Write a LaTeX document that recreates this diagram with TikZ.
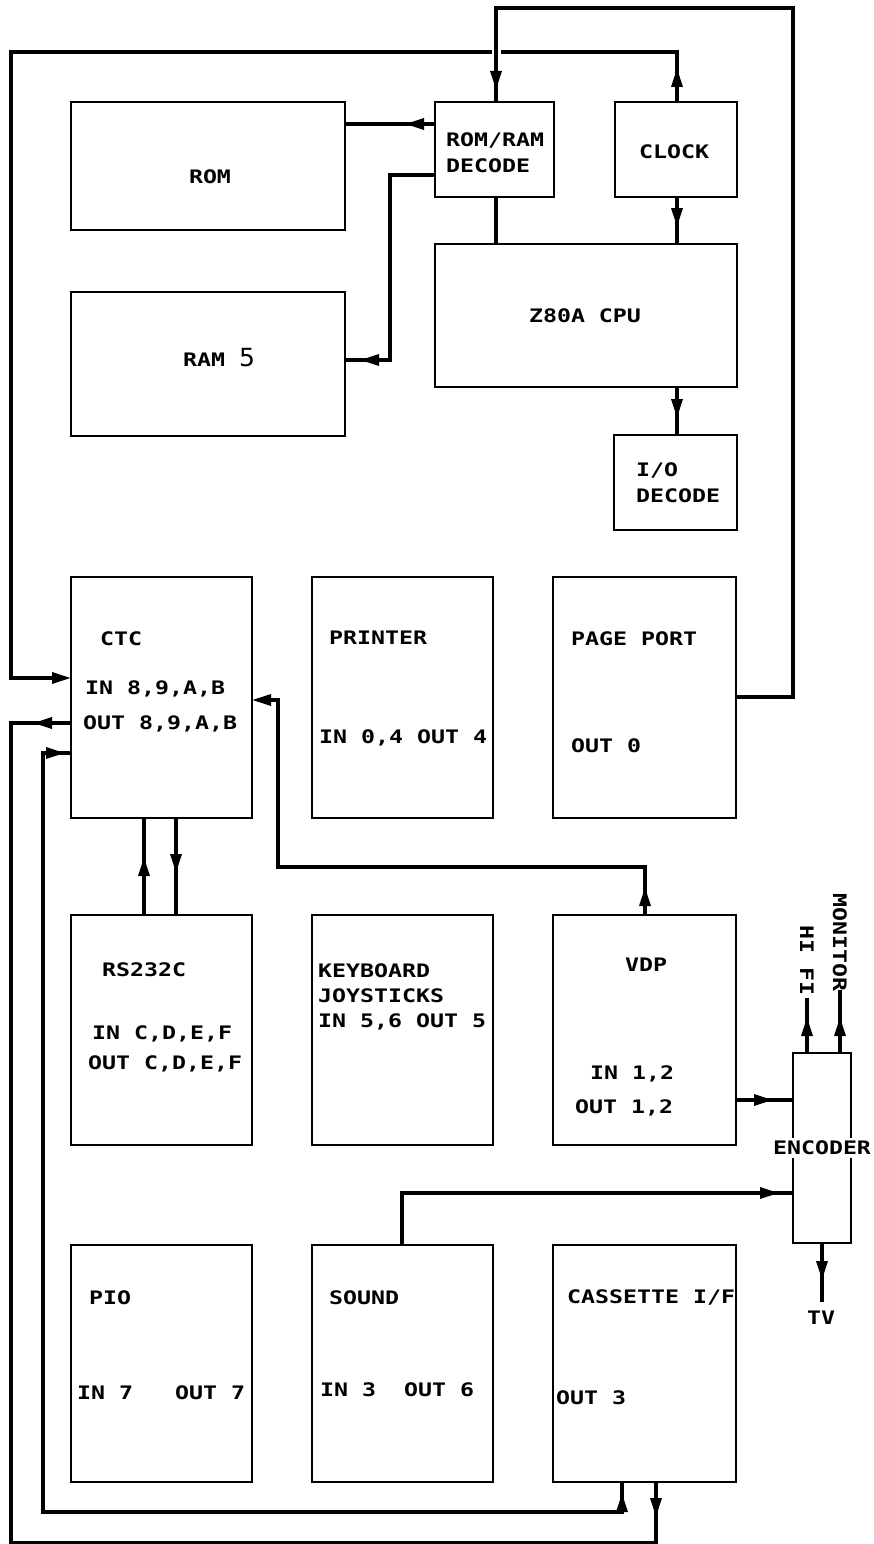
\documentclass[tikz,border=0pt]{standalone}
\usepackage{fontspec}
\usetikzlibrary{arrows.meta,decorations.markings}
\newfontfamily\plotfont[FakeStretch=1.25]{DejaVu Sans Mono}
\newfontfamily\digitfont{DejaVu Sans}
\tikzset{
  tri/.tip={Triangle[length=19pt,width=11pt]},
  box/.style={draw, line width=2.2pt, inner sep=0pt, rectangle},
  conn/.style={line width=3.2pt},
  arrat/.style={postaction={decorate,decoration={markings,mark=at position #1 with {\arrow{tri}}}}},
  rarrat/.style={postaction={decorate,decoration={markings,mark=at position #1 with {\arrowreversed{tri}}}}},
  lbl/.style={anchor=base west, inner sep=0pt, yshift=-6.8pt, font=\plotfont\bfseries\fontsize{18.6}{22}\selectfont},
  clbl/.style={lbl, anchor=base},
  vlbl/.style={anchor=west, inner sep=0pt, rotate=-90, font=\plotfont\bfseries\fontsize{18.6}{22}\selectfont},
}
\begin{document}
\begin{tikzpicture}[x=1pt,y=-1pt]
\useasboundingbox (0,0) rectangle (873,1544);
% boxes
\node[box, minimum width=274pt, minimum height=128pt] (rom) at (208,166) {};
\node[box, minimum width=274pt, minimum height=144pt] (ram) at (208,364) {};
\node[box, minimum width=119pt, minimum height=95pt] (dec) at (494.5,149.5) {};
\node[box, minimum width=122pt, minimum height=95pt] (clk) at (676,149.5) {};
\node[box, minimum width=302pt, minimum height=143pt] (cpu) at (586,315.5) {};
\node[box, minimum width=123pt, minimum height=95pt] (iod) at (675.5,482.5) {};
\node[box, minimum width=181pt, minimum height=241pt] (ctc) at (161.5,697.5) {};
\node[box, minimum width=181pt, minimum height=241pt] (prn) at (402.5,697.5) {};
\node[box, minimum width=183pt, minimum height=241pt] (pgp) at (644.5,697.5) {};
\node[box, minimum width=181pt, minimum height=230pt] (rs) at (161.5,1030) {};
\node[box, minimum width=181pt, minimum height=230pt] (kbd) at (402.5,1030) {};
\node[box, minimum width=183pt, minimum height=230pt] (vdp) at (644.5,1030) {};
\node[box, minimum width=181pt, minimum height=237pt] (pio) at (161.5,1363.5) {};
\node[box, minimum width=181pt, minimum height=237pt] (snd) at (402.5,1363.5) {};
\node[box, minimum width=183pt, minimum height=237pt] (cas) at (644.5,1363.5) {};
\node[box, minimum width=58pt, minimum height=190pt] (enc) at (822,1148) {};
% port coordinates
\coordinate (clkN) at (677,102);
\coordinate (tl1) at (677,52);
\coordinate (tl2) at (11,52);
\coordinate (tl3) at (11,678);
\coordinate (ctcIn) at (71,678);
\coordinate (pgpE) at (736,697);
\coordinate (tr1) at (793,697);
\coordinate (tr2) at (793,8);
\coordinate (tr3) at (496,8);
\coordinate (decN) at (496,102);
\coordinate (decW1) at (435,124);
\coordinate (romE) at (345,124);
\coordinate (decW2) at (435,175);
\coordinate (rm1) at (390,175);
\coordinate (rm2) at (390,360);
\coordinate (ramE) at (345,360);
\coordinate (decS) at (496,197);
\coordinate (cpuN1) at (496,244);
\coordinate (clkS) at (677,197);
\coordinate (cpuN2) at (677,244);
\coordinate (cpuS) at (677,387);
\coordinate (iodN) at (677,435);
\coordinate (ctcOut) at (71,723);
\coordinate (o1) at (11,723);
\coordinate (o2) at (11,1543);
\coordinate (o3) at (656,1543);
\coordinate (casS2) at (656,1482);
\coordinate (ctcIn2) at (71,753);
\coordinate (i1) at (43,753);
\coordinate (i2) at (43,1512);
\coordinate (i3) at (622,1512);
\coordinate (casS1) at (622,1482);
\coordinate (rsN1) at (144,915);
\coordinate (ctcS1) at (144,818);
\coordinate (ctcS2) at (176,818);
\coordinate (rsN2) at (176,915);
\coordinate (vdpN) at (645,915);
\coordinate (v1) at (645,867);
\coordinate (v2) at (278,867);
\coordinate (v3) at (278,700);
\coordinate (ctcE) at (252,700);
\coordinate (vdpE) at (736,1100);
\coordinate (encW1) at (793,1100);
\coordinate (sndN) at (402,1245);
\coordinate (s1) at (402,1193);
\coordinate (encW2) at (793,1193);
\coordinate (encN1) at (807,1053);
\coordinate (hifiEnd) at (807,998);
\coordinate (encN2) at (840,1053);
\coordinate (monEnd) at (840,990);
\coordinate (encS) at (822,1243);
\coordinate (tvEnd) at (822,1302);
% connectors
\draw[conn, arrat=34pt, -tri] (clkN) -- (tl1) -- (tl2) -- (tl3) -- (ctcIn);
\draw[conn, preaction={draw=white, line width=9pt, shorten <=8pt, shorten >=8pt}, arrat=-12pt]
  (pgpE) -- (tr1) -- (tr2) -- (tr3) -- (decN);
\draw[conn, arrat=30pt] (decW1) -- (romE);
\draw[conn, arrat=-15pt] (decW2) -- (rm1) -- (rm2) -- (ramE);
\draw[conn] (decS) -- (cpuN1);
\draw[conn, arrat=30pt] (clkS) -- (cpuN2);
\draw[conn, arrat=31pt] (cpuS) -- (iodN);
\draw[conn, arrat=38pt, rarrat=-35pt] (ctcOut) -- (o1) -- (o2) -- (o3) -- (casS2);
\draw[conn, rarrat=6pt, arrat=-11pt] (ctcIn2) -- (i1) -- (i2) -- (i3) -- (casS1);
\draw[conn, arrat=58pt] (rsN1) -- (ctcS1);
\draw[conn, arrat=55pt] (ctcS2) -- (rsN2);
\draw[conn, arrat=28pt, -tri] (vdpN) -- (v1) -- (v2) -- (v3) -- (ctcE);
\draw[conn, arrat=37pt] (vdpE) -- (encW1);
\draw[conn, arrat=-14pt] (sndN) -- (s1) -- (encW2);
\draw[conn, arrat=36pt] (encN1) -- (hifiEnd);
\draw[conn, arrat=36pt] (encN2) -- (monEnd);
\draw[conn, arrat=37pt] (encS) -- (tvEnd);
% labels
\node[lbl] (decT1) at (446,140) {ROM/RAM};
\node[lbl] (decT2) at (446,166) {DECODE};
\node[clbl] (clkT) at (674,152) {CLOCK};
\node[clbl] (romT) at (210,177) {ROM};
\node[lbl] (ramT) at (183,360) {RAM\ {\digitfont\mdseries\fontsize{25}{25}\selectfont 5}};
\node[clbl] (cpuT) at (585,316) {Z80A CPU};
\node[lbl] (iodT1) at (636,470) {I/O};
\node[lbl] (iodT2) at (636,496) {DECODE};
\node[lbl] (ctcT1) at (100,639) {CTC};
\node[lbl] (ctcT2) at (85,688) {IN 8,9,A,B};
\node[lbl] (ctcT3) at (83,723) {OUT 8,9,A,B};
\node[lbl] (prnT1) at (329,638) {PRINTER};
\node[lbl] (prnT2) at (319,737) {IN 0,4 OUT 4};
\node[lbl] (pgpT1) at (571,639) {PAGE PORT};
\node[lbl] (pgpT2) at (571,746) {OUT 0};
\node[lbl] (rsT1) at (102,970) {RS232C};
\node[lbl] (rsT2) at (92,1033) {IN C,D,E,F};
\node[lbl] (rsT3) at (88,1063) {OUT C,D,E,F};
\node[lbl] (kbdT1) at (318,971) {KEYBOARD};
\node[lbl] (kbdT2) at (318,996) {JOYSTICKS};
\node[lbl] (kbdT3) at (318,1021) {IN 5,6 OUT 5};
\node[clbl] (vdpT1) at (646,965) {VDP};
\node[lbl] (vdpT2) at (590,1073) {IN 1,2};
\node[lbl] (vdpT3) at (575,1107) {OUT 1,2};
\node[clbl, fill=white, inner xsep=1pt, inner ysep=3pt] (encT) at (822,1148) {ENCODER};
\node[clbl] (tvT) at (821,1318) {TV};
\node[vlbl] (hifiT) at (807,925) {HI FI};
\node[vlbl] (monT) at (840,893) {MONITOR};
\node[lbl] (pioT1) at (89,1298) {PIO};
\node[lbl] (pioT2) at (77,1393) {IN 7\ \ \ OUT 7};
\node[lbl] (sndT1) at (329,1298) {SOUND};
\node[lbl] (sndT2) at (320,1390) {IN 3\ \ OUT 6};
\node[lbl] (casT1) at (567,1297) {CASSETTE I/F};
\node[lbl] (casT2) at (556,1398) {OUT 3};
\end{tikzpicture}
\end{document}
